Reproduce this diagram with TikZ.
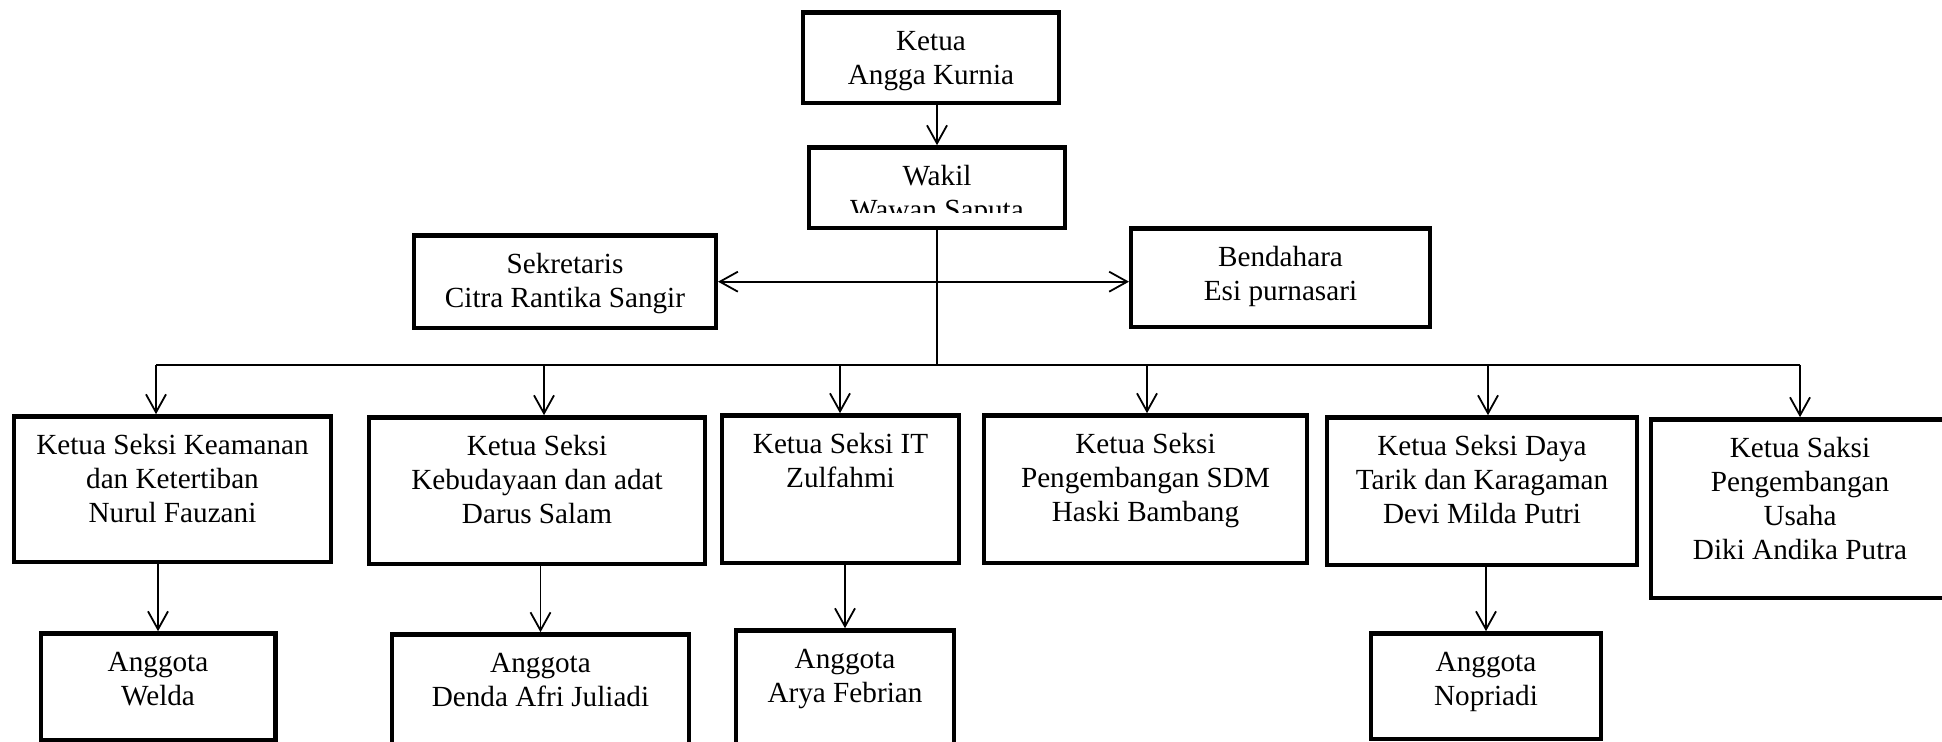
\documentclass[tikz,border=0pt]{standalone}
\usepackage{fontspec}
\setmainfont{Liberation Serif}
\usetikzlibrary{arrows.meta}
\newcommand{\susun}[1]{\begin{tabular}[t]{@{}c@{}}#1\end{tabular}}
\begin{document}
\begin{tikzpicture}[x=0.5pt,y=-0.5pt,
  every node/.style={font=\fontsize{14.6pt}{17pt}\selectfont},
  kotak/.style={draw,line width=2.2pt,inner sep=0pt,anchor=north,text height=18.9pt},
  panah/.style={-{Straight Barb[length=9pt,width=10pt]},line width=0.9pt},
  panahdua/.style={{Straight Barb[length=9pt,width=10pt]}-{Straight Barb[length=9pt,width=10pt]},line width=0.9pt},
  garis/.style={line width=0.65pt}]
\useasboundingbox (0,0) rectangle (1942,742);
% pimpinan
\node[kotak,minimum width=127.8pt,text depth=26.4pt] (ketua) at (931,10.2) {\susun{Ketua\\Angga Kurnia}};
\node[kotak,minimum width=127.8pt,text depth=21.4pt] (wakil) at (937,145.2) {};
\begin{scope}
\clip (wakil.north west) rectangle (wakil.east |- 0,213);
\node[kotak,draw=none] (wakilteks) at (wakil.north) {\susun{Wakil\\Wawan Saputa}};
\end{scope}
\node[kotak,minimum width=150.8pt,text depth=27.4pt] (sekretaris) at (565,233.2) {\susun{Sekretaris\\Citra Rantika Sangir}};
\node[kotak,minimum width=149.3pt,text depth=30.4pt] (bendahara) at (1280.5,226.2) {\susun{Bendahara\\Esi purnasari}};
% ketua seksi
\node[kotak,minimum width=158.3pt,text depth=53.9pt] (k1) at (172.5,414.2) {\susun{Ketua Seksi Keamanan\\dan Ketertiban\\Nurul Fauzani}};
\node[kotak,minimum width=167.8pt,text depth=54.4pt] (k2) at (537,415.2) {\susun{Ketua Seksi\\Kebudayaan dan adat\\Darus Salam}};
\node[kotak,minimum width=118.3pt,text depth=54.9pt] (k3) at (840.5,413.2) {\susun{Ketua Seksi IT\\Zulfahmi}};
\node[kotak,minimum width=161.3pt,text depth=54.9pt] (k4) at (1145.5,413.2) {\susun{Ketua Seksi\\Pengembangan SDM\\Haski Bambang}};
\node[kotak,minimum width=154.8pt,text depth=54.9pt] (k5) at (1482,415.2) {\susun{Ketua Seksi Daya\\Tarik dan Karagaman\\Devi Milda Putri}};
\node[kotak,minimum width=148.8pt,text depth=70.4pt] (k6) at (1800,417.2) {\susun{Ketua Saksi\\Pengembangan\\Usaha\\Diki Andika Putra}};
% anggota
\node[kotak,minimum width=117.3pt,text depth=34.4pt] (a1) at (158,631.2) {\susun{Anggota\\Welda}};
\node[kotak,minimum width=148.3pt,text depth=37.9pt] (a2) at (540.5,632.2) {\susun{Anggota\\Denda Afri Juliadi}};
\node[kotak,minimum width=108.8pt,text depth=39.9pt] (a3) at (845,628.2) {\susun{Anggota\\Arya Febrian}};
\node[kotak,minimum width=114.8pt,text depth=33.9pt] (a5) at (1486,631.2) {\susun{Anggota\\Nopriadi}};
% garis
\draw[panah] (ketua.south -| wakil.north) -- (wakil.north);
\draw[panahdua] (sekretaris.east) -- (sekretaris.east -| bendahara.west);
\foreach \i/\x in {1/156,2/544,3/840,4/1147,5/1488,6/1800}
  \coordinate (t\i) at (\x,365);
\draw[garis] (wakil.south) -- (wakil.south |- t1);
\draw[garis] (t1) -- (t6);
\foreach \i in {1,...,6}
  \draw[panah] (t\i) -- (t\i |- k\i.north);
\foreach \i in {1,2,3,5}
  \draw[panah] (a\i.north |- k\i.south) -- (a\i.north);
\end{tikzpicture}
\end{document}
